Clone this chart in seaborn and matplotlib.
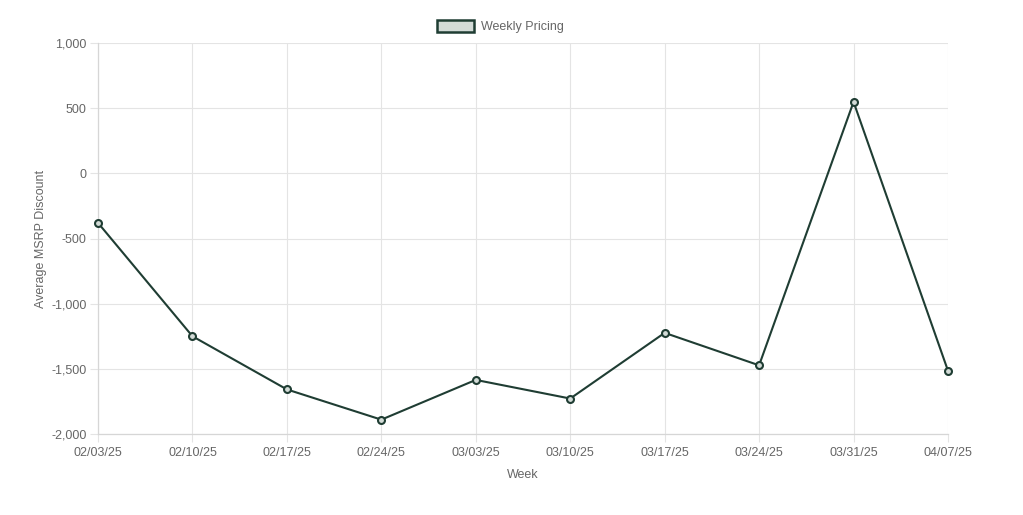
import pandas as pd
import matplotlib.pyplot as plt
import seaborn as sns
from matplotlib.patches import Patch
from matplotlib.ticker import FuncFormatter

weeks = ["02/03/25", "02/10/25", "02/17/25", "02/24/25", "03/03/25",
         "03/10/25", "03/17/25", "03/24/25", "03/31/25", "04/07/25"]
discount = [-380, -1250, -1658, -1890, -1585, -1728, -1224, -1473, 548, -1515]

LINE = "#1f3d33"
FILL = "#d3dbd7"
TEXT = "#666666"
GRID = "#e4e4e4"

sns.set_theme(style="white")
plt.rcParams["font.family"] = ["Liberation Sans", "DejaVu Sans"]

df = pd.DataFrame({"week": weeks, "discount": discount})
df["pos"] = range(len(df))

fig = plt.figure(figsize=(10.23, 5.15), dpi=100)
ax = fig.add_axes([98 / 1023, 1 - 434 / 515, 850 / 1023, 391 / 515])

sns.lineplot(
    data=df, x="pos", y="discount", ax=ax,
    color=LINE, linewidth=1.5, marker="o", markersize=5,
    markerfacecolor=FILL, markeredgecolor=LINE, markeredgewidth=1.5,
    zorder=3, clip_on=False,
)

ax.set_xlim(0, len(weeks) - 1)
ax.set_ylim(-2000, 1000)
ax.set_xticks(df["pos"])
ax.set_xticklabels(weeks)
ax.set_yticks(range(-2000, 1001, 500))
ax.yaxis.set_major_formatter(FuncFormatter(lambda v, _: f"{int(v):,}"))

ax.grid(True, color=GRID, linewidth=0.8)
for s in ["top", "right"]:
    ax.spines[s].set_visible(False)
for s in ["left", "bottom"]:
    ax.spines[s].set_color("#d6d6d6")
    ax.spines[s].set_linewidth(0.9)

ax.tick_params(axis="both", colors=GRID, labelcolor=TEXT, labelsize=9,
               length=5.8, width=0.8, pad=2.5, direction="out",
               bottom=True, left=True)
ax.tick_params(axis="x", pad=3.8)

ax.set_xlabel("Week", color=TEXT, fontsize=9)
ax.xaxis.set_label_coords(0.5, -0.09)
ax.set_ylabel("Average MSRP Discount", color=TEXT, fontsize=9)
ax.yaxis.set_label_coords(-0.06, 0.5)

handle = Patch(facecolor=FILL, edgecolor=LINE, linewidth=1.8, label="Weekly Pricing")
fig.legend(handles=[handle], loc="center", bbox_to_anchor=(0.489, 0.948),
           frameon=False, fontsize=9, handlelength=3.0, handleheight=1.0,
           handletextpad=0.5, labelcolor=TEXT)

fig.savefig("out.png", dpi=100)
